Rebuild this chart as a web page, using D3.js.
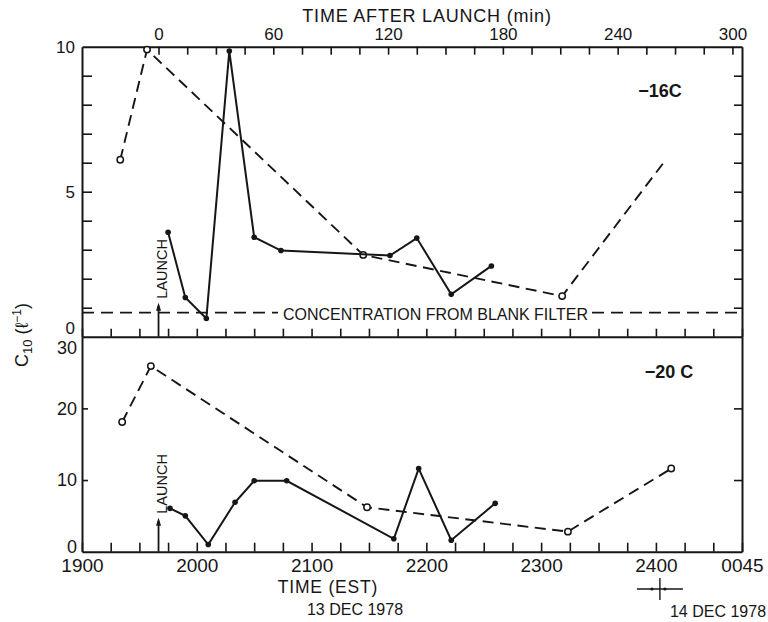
<!DOCTYPE html>
<html>
<head>
<meta charset="utf-8">
<script src="https://cdn.jsdelivr.net/npm/d3@7"></script>
<style>
    body { margin: 0; background: #fff; }
    svg { display: block; font-family: "Liberation Sans", Arial, sans-serif; }
</style>
</head>
<body>
<div id="chart"></div>
<script>
// clock times are EST as hhmm; values past midnight are written 24xx
const launchTime = 1940;
const estTickTimes = [1900, 2000, 2100, 2200, 2300, 2400, 2445];
const estTickLabels = ["1900", "2000", "2100", "2200", "2300", "2400", "0045"];
const afterLaunchLabels = [0, 60, 120, 180, 240, 300];

// -16C panel
const warmSolidTime = [1945, 1954, 2005, 2017, 2030, 2044, 2141, 2155, 2213, 2234];
const warmSolidValue = [3.6, 1.35, 0.63, 9.85, 3.43, 2.97, 2.8, 3.4, 1.46, 2.44];
const warmOpenTime = [1920, 1934, 2127, 2311, 2404];
const warmOpenValue = [6.1, 9.9, 2.82, 1.4, 6.0];
const warmOpenMarked = [true, true, true, true, false];
const blankFilterValue = 0.83;

// -20C panel
const coldSolidTime = [1946, 1954, 2006, 2020, 2030, 2047, 2143, 2156, 2213, 2236];
const coldSolidValue = [6.05, 5.0, 1.0, 6.9, 9.9, 9.9, 1.8, 11.6, 1.6, 6.75];
const coldOpenTime = [1921, 1936, 2129, 2314, 2408];
const coldOpenValue = [18.1, 25.9, 6.2, 2.8, 11.6];

const ink = "#161616";

function toMin(hhmm) {
    return Math.floor(hhmm / 100) * 60 + (hhmm % 100) - 1140;
}

function zip(times, values) {
    return times.map((t, i) => ({ t: toMin(t), v: values[i], i }));
}

const width = 768;
const height = 622;

const svg = d3.select("#chart").append("svg")
    .attr("width", width)
    .attr("height", height)
    .attr("viewBox", [0, 0, width, height]);

const x = d3.scaleLinear().domain([0, 345]).range([82, 742]);
const xAfter = d3.scaleLinear()
    .domain([-toMin(launchTime), 345 - toMin(launchTime)])
    .range(x.range());
const yTop = d3.scaleLinear().domain([0, 10]).range([336.7, 46.7]);
const yBot = d3.scaleLinear().domain([0, 30]).range([551.7, 336.7]);

function styleAxis(g, size) {
    g.select(".domain").attr("stroke", ink).attr("stroke-width", 2);
    g.selectAll(".tick line").attr("stroke", ink).attr("stroke-width", 1.6);
    g.selectAll(".tick text").attr("fill", ink).attr("font-size", size)
        .attr("font-family", "Liberation Sans, Arial, sans-serif");
}

const quarterHours = d3.range(0, 346, 15);

// bottom time axis, ticks pointing in
svg.append("g")
    .attr("transform", `translate(0,${yBot(0)})`)
    .call(d3.axisBottom(x).tickValues(quarterHours).tickSize(-9).tickSizeOuter(0).tickFormat(""))
    .call(styleAxis, 19);

svg.append("g")
    .attr("transform", `translate(0,${yBot(0)})`)
    .call(d3.axisBottom(x).tickValues(estTickTimes.map(toMin)).tickSize(0).tickPadding(7)
        .tickFormat((d, i) => estTickLabels[i]))
    .call(styleAxis, 19)
    .call((g) => g.select(".domain").remove());

// divider between panels, ticks up into top panel
svg.append("g")
    .attr("transform", `translate(0,${yTop(0)})`)
    .call(d3.axisBottom(x).tickValues(quarterHours).tickSize(-8).tickSizeOuter(0).tickFormat(""))
    .call(styleAxis, 19);

// top axis: minutes after launch
svg.append("g")
    .attr("transform", `translate(0,${yTop(10)})`)
    .call(d3.axisTop(xAfter).tickValues(d3.range(0, 301, 15)).tickSize(-8).tickSizeOuter(0).tickFormat(""))
    .call(styleAxis, 17);

svg.append("g")
    .attr("transform", `translate(0,${yTop(10)})`)
    .call(d3.axisTop(xAfter).tickValues(afterLaunchLabels).tickSize(0).tickPadding(7))
    .call(styleAxis, 17)
    .call((g) => g.select(".domain").remove());

// left / right axes, top panel
svg.append("g")
    .attr("transform", `translate(${x(0)},0)`)
    .call(d3.axisLeft(yTop).tickValues(d3.range(1, 10)).tickSize(-10).tickSizeOuter(0).tickFormat(""))
    .call(styleAxis, 17);

svg.append("g")
    .attr("transform", `translate(${x(0)},0)`)
    .call(d3.axisLeft(yTop).tickValues([0, 5, 10]).tickSize(0).tickPadding(7))
    .call(styleAxis, 17)
    .call((g) => g.select(".domain").remove())
    .call((g) => g.selectAll(".tick text").filter((d) => d === 0).attr("dy", "-0.2em"));

svg.append("g")
    .attr("transform", `translate(${x(345)},0)`)
    .call(d3.axisRight(yTop).tickValues(d3.range(1, 10)).tickSize(-8).tickSizeOuter(0).tickFormat(""))
    .call(styleAxis, 17);

// left / right axes, bottom panel
svg.append("g")
    .attr("transform", `translate(${x(0)},0)`)
    .call(d3.axisLeft(yBot).tickValues([10, 20]).tickSize(-6).tickSizeOuter(0).tickFormat(""))
    .call(styleAxis, 18);

svg.append("g")
    .attr("transform", `translate(${x(0)},0)`)
    .call(d3.axisLeft(yBot).tickValues([0, 10, 20, 30]).tickSize(0).tickPadding(5))
    .call(styleAxis, 18)
    .call((g) => g.select(".domain").remove())
    .call((g) => g.selectAll(".tick text").filter((d) => d === 30).attr("dy", "0.95em"))
    .call((g) => g.selectAll(".tick text").filter((d) => d === 0).attr("dy", "0.05em"));

svg.append("g")
    .attr("transform", `translate(${x(345)},0)`)
    .call(d3.axisRight(yBot).tickValues([10, 20]).tickSize(-8).tickSizeOuter(0).tickFormat(""))
    .call(styleAxis, 18);

// series
function drawSeries(times, values, y, dashed, marked) {
    const data = zip(times, values);
    const line = d3.line().x((d) => x(d.t)).y((d) => y(d.v));
    svg.append("path")
        .datum(data)
        .attr("fill", "none")
        .attr("stroke", ink)
        .attr("stroke-width", dashed ? 1.9 : 2)
        .attr("stroke-dasharray", dashed ? "11,6.5" : null)
        .attr("d", line);
    svg.append("g")
        .selectAll("circle")
        .data(marked ? data.filter((d) => marked[d.i]) : data)
        .join("circle")
        .attr("cx", (d) => x(d.t))
        .attr("cy", (d) => y(d.v))
        .attr("r", dashed ? 3.2 : 2.8)
        .attr("fill", dashed ? "#fff" : ink)
        .attr("stroke", ink)
        .attr("stroke-width", dashed ? 1.5 : 0);
}

drawSeries(warmOpenTime, warmOpenValue, yTop, true, warmOpenMarked);
drawSeries(warmSolidTime, warmSolidValue, yTop, false);
drawSeries(coldOpenTime, coldOpenValue, yBot, true, coldOpenTime.map(() => true));
drawSeries(coldSolidTime, coldSolidValue, yBot, false);

// blank filter level, broken around its caption
const blankText = svg.append("text")
    .attr("x", 435.5)
    .attr("y", yTop(blankFilterValue) + 7)
    .attr("text-anchor", "middle")
    .attr("font-size", 16)
    .attr("textLength", 305)
    .attr("lengthAdjust", "spacingAndGlyphs")
    .attr("fill", ink)
    .text("CONCENTRATION FROM BLANK FILTER");
const bb = blankText.node().getBBox();
[[x(0), bb.x - 5], [bb.x + bb.width + 4, x(345)]].forEach(([x0, x1]) => {
    svg.append("line")
        .attr("x1", x0).attr("x2", x1)
        .attr("y1", yTop(blankFilterValue)).attr("y2", yTop(blankFilterValue))
        .attr("stroke", ink)
        .attr("stroke-width", 1.8)
        .attr("stroke-dasharray", "12,7");
});

// launch markers
function launchMarker(y) {
    const lx = x(toMin(launchTime));
    const y0 = y(0);
    svg.append("line")
        .attr("x1", lx).attr("x2", lx)
        .attr("y1", y0).attr("y2", y0 - 31)
        .attr("stroke", ink).attr("stroke-width", 1.8);
    svg.append("path")
        .attr("d", `M${lx - 2.5},${y0 - 26}L${lx},${y0 - 34}L${lx + 2.5},${y0 - 26}Z`)
        .attr("fill", ink);
    svg.append("text")
        .attr("transform", `translate(${lx + 8},${y0 - 38}) rotate(-90)`)
        .attr("font-size", 14.5)
        .attr("fill", ink)
        .text("LAUNCH");
}
launchMarker(yTop);
launchMarker(yBot);

// panel labels
svg.append("text")
    .attr("x", 660).attr("y", 97)
    .attr("text-anchor", "middle")
    .attr("font-size", 18).attr("font-weight", 700)
    .attr("fill", ink)
    .text("\u221216C");

svg.append("text")
    .attr("x", 669).attr("y", 378)
    .attr("text-anchor", "middle")
    .attr("font-size", 18).attr("font-weight", 700)
    .attr("fill", ink)
    .text("\u221220 C");

// axis titles
svg.append("text")
    .attr("x", 427).attr("y", 22)
    .attr("text-anchor", "middle")
    .attr("font-size", 18)
    .attr("letter-spacing", 0.8)
    .attr("fill", ink)
    .text("TIME AFTER LAUNCH (min)");

svg.append("text")
    .attr("x", 328).attr("y", 593)
    .attr("text-anchor", "middle")
    .attr("font-size", 17.5)
    .attr("letter-spacing", 0.8)
    .attr("fill", ink)
    .text("TIME (EST)");

svg.append("text")
    .attr("x", 355).attr("y", 615)
    .attr("text-anchor", "middle")
    .attr("font-size", 16)
    .attr("fill", ink)
    .text("13 DEC 1978");

svg.append("text")
    .attr("x", 718).attr("y", 617)
    .attr("text-anchor", "middle")
    .attr("font-size", 16)
    .attr("fill", ink)
    .text("14 DEC 1978");

// midnight marker under 2400
const mx = x(toMin(2400)) + 4;
svg.append("line").attr("x1", mx - 23).attr("x2", mx + 23).attr("y1", 589).attr("y2", 589)
    .attr("stroke", ink).attr("stroke-width", 1.4);
svg.append("line").attr("x1", mx).attr("x2", mx).attr("y1", 578).attr("y2", 600)
    .attr("stroke", ink).attr("stroke-width", 1.4);
[-8, 5].forEach((dx) => {
    svg.append("circle").attr("cx", mx + dx).attr("cy", 589).attr("r", 1.6).attr("fill", ink);
});

// y axis title
const yTitle = svg.append("text")
    .attr("transform", "translate(28,335) rotate(-90)")
    .attr("text-anchor", "middle")
    .attr("font-size", 18)
    .attr("fill", ink);
yTitle.append("tspan").text("C");
yTitle.append("tspan").attr("font-size", 13).attr("dy", 4).text("10");
yTitle.append("tspan").attr("dy", -4).text(" (\u2113");
yTitle.append("tspan").attr("font-size", 12).attr("dy", -7).text("\u22121");
yTitle.append("tspan").attr("dy", 7).text(")");
</script>
</body>
</html>
